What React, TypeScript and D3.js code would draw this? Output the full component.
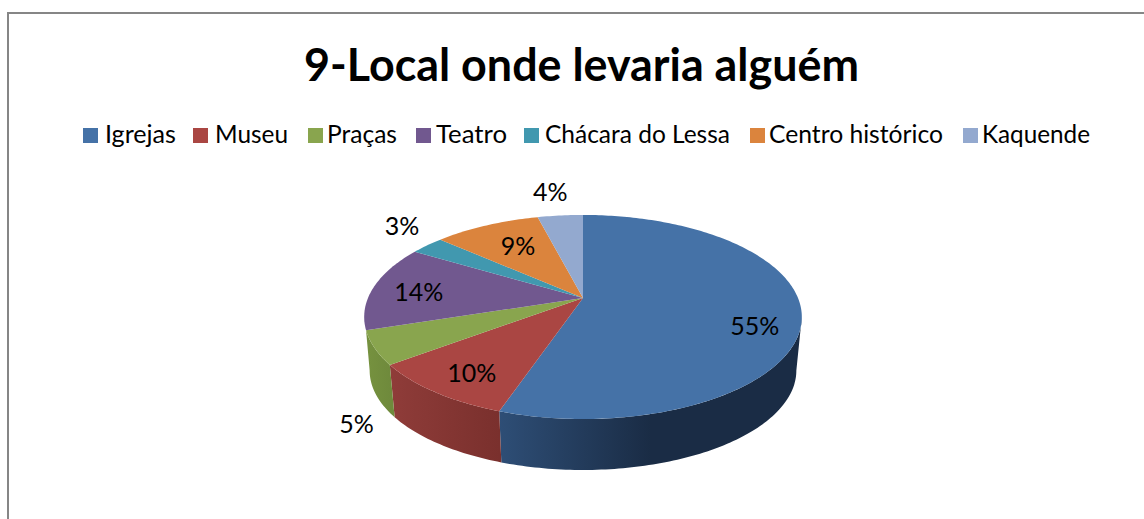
import React from "react";
import * as d3 from "d3";

const categories = ["Igrejas", "Museu", "Praças", "Teatro", "Chácara do Lessa", "Centro histórico", "Kaquende"];
const values = [55.2, 9.5, 5.3, 13.6, 3, 9.4, 4];
const colors = ["#4572A7", "#AA4643", "#89A54E", "#71588F", "#4198AF", "#DB843D", "#93A9CF"];
const sideLeft = ["#2E4E76", "#8F3C39", "#76923F", "#5A4672", "#327A8C", "#B06A30", "#7587A6"];
const sideRight = ["#1A2C45", "#7A302D", "#6F8A3C", "#5A4672", "#327A8C", "#B06A30", "#7587A6"];
const legendSwatchX = [83, 193, 308, 416, 524, 750, 963];
const legendTextX = [105, 215, 327, 436, 545, 769, 982];
const legendTextW = [71, 73, 70, 71, 185, 174, 108];
const labelNudge = [[-47, 12], [37, -19], [-18, 76], [45, 5], [-25, -19], [31.5, 21], [-10, -23.5]];

const W = 1144, H = 519;
const CX = 583, APEX_TOP = 298, APEX_BOTTOM = 352;
const R = 215, S = 98.5, P = 0.186, BOTTOM_SCALE = 0.975;
const FONT = "Lato, Carlito, Calibri, 'Open Sans', sans-serif";
// Angles where the projected rim reaches its horizontal extremes: the wall's silhouette.
const T0 = Math.PI - Math.acos(P);
const T1 = Math.PI + Math.acos(P);

function project(theta: number, r = 1, k = 1, apex = APEX_TOP): [number, number] {
  const u = Math.sin(theta) * r, v = -Math.cos(theta) * r;
  const w = 1 - P * v;
  return [CX + (k * R * u) / w, apex + (k * S * v) / w];
}
function samples(a0: number, a1: number) {
  const n = Math.max(2, Math.ceil(((a1 - a0) * 180) / Math.PI));
  return d3.range(n + 1).map((i) => a0 + ((a1 - a0) * i) / n);
}
const line = d3.line<[number, number]>();

export default function App() {
  const arcs = d3.pie<number>().sort(null).startAngle(0).endAngle(2 * Math.PI)(values);
  const minSpan = (10 * Math.PI) / 180;
  const walls = arcs
    .map((a, i) => ({ i, a0: Math.max(a.startAngle, T0), a1: Math.min(a.endAngle, T1) }))
    .filter((d) => d.a1 - d.a0 >= minSpan);
  const lastWall = walls[walls.length - 1].i;
  return (
    <svg width={W} height={H} viewBox={`0 0 ${W} ${H}`} style={{ position: "absolute", left: 0, top: 0, background: "#fff" }}>
      <defs>
        {walls.map(({ i, a0, a1 }) => {
          const xs = samples(a0, a1).map((t) => project(t)[0]);
          const lo = d3.min(xs)!, hi = d3.max(xs)!;
          return (
            <linearGradient key={i} id={`side${i}`} gradientUnits="userSpaceOnUse" x1={lo} x2={hi} y1={0} y2={0}>
              <stop offset={0} stopColor={sideLeft[i]} />
              <stop offset={i === 0 ? 0.5 : 1} stopColor={sideRight[i]} />
            </linearGradient>
          );
        })}
      </defs>
      <path d="M8 519V13H1144" fill="none" stroke="#868686" strokeWidth={2} />
      <text x={581.5} y={81} textAnchor="middle" fontFamily={FONT} fontWeight={700} fontSize={46} textLength={555} lengthAdjust="spacingAndGlyphs" fill="#000">
        9-Local onde levaria alguém
      </text>
      {categories.map((c, i) => (
        <g key={c}>
          <rect x={legendSwatchX[i]} y={128} width={15} height={15} fill={colors[i]} />
          <text x={legendTextX[i]} y={143} fontFamily={FONT} fontSize={25} textLength={legendTextW[i]} lengthAdjust="spacingAndGlyphs" fill="#000">
            {c}
          </text>
        </g>
      ))}
      {walls.map(({ i, a0, a1 }) => {
        const top = samples(a0, a1).map((t) => project(t));
        const bottom = samples(a0, i === lastWall ? T1 : a1)
          .map((t) => project(t, 1, BOTTOM_SCALE, APEX_BOTTOM))
          .reverse();
        return <path key={i} d={line([...top, ...bottom])! + "Z"} fill={`url(#side${i})`} />;
      })}
      {arcs.map((a, i) => {
        const pts = samples(a.startAngle, a.endAngle).map((t) => project(t));
        return <path key={i} d={line([[CX, APEX_TOP], ...pts])! + "Z"} fill={colors[i]} />;
      })}
      {arcs.map((a, i) => {
        const [x, y] = project((a.startAngle + a.endAngle) / 2);
        return (
          <text key={i} x={x + labelNudge[i][0]} y={y + labelNudge[i][1]} dy="0.35em" textAnchor="middle" fontFamily={FONT} fontSize={25} fill="#000">
            {d3.format(".0f")(a.value)}%
          </text>
        );
      })}
    </svg>
  );
}
